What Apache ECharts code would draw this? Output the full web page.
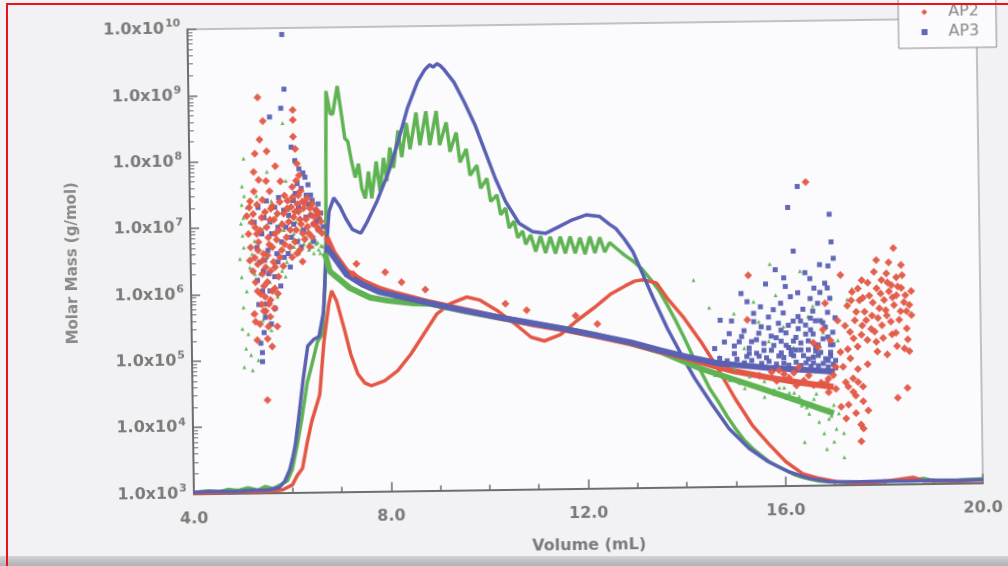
<!DOCTYPE html>
<html><head><meta charset="utf-8">
<script src="https://cdn.jsdelivr.net/npm/echarts@6/dist/echarts.min.js"></script>
<style>
html,body{margin:0;padding:0;width:1008px;height:566px;overflow:hidden;background:#f2f2f4;}
#chart{position:absolute;left:0;top:0;width:1008px;height:566px;transform:rotate(-0.8deg);transform-origin:504px 283px;}
#frameL{position:absolute;left:6px;top:3px;width:2px;height:563px;background:#e8141c;}
#frameT{position:absolute;left:6px;top:3px;width:1002px;height:2px;background:#e8141c;}
#band{position:absolute;left:0;top:556px;width:1008px;height:10px;background:linear-gradient(#d4d4d8,#b0b0b4);}
</style></head><body>
<div id="chart"></div><div id="band"></div><div id="frameL"></div><div id="frameT"></div>
<script>
// ---- tick labels ----
const xTickLabels = [4, 8, 12, 16, 20];
const yTickExponents = [3, 4, 5, 6, 7, 8, 9, 10];
const seriesNames = ['AP1', 'AP2', 'AP3'];

// ---- detector traces (volume mL, value) ----
const ap1Trace = [[4.0,1.05e3],[4.3,1.1e3],[4.5,1.05e3],[4.7,1.15e3],[4.9,1.1e3],[5.1,1.2e3],[5.3,1.1e3],[5.45,1.25e3],[5.6,1.15e3],[5.75,1.3e3],[5.9,1.5e3],[6.0,2.2e3],[6.11,5.2e3],[6.21,1.3e4],[6.33,4.5e4],[6.41,7.4e4],[6.55,1.86e5],[6.65,2.4e5],[6.72,1.35e6],[6.75,7.6e6],[6.79,1.1e9],[6.82,1.1e9],[6.87,5.0e8],[6.92,4.9e8],[6.97,8e8],[7.02,1.3e9],[7.09,5.4e8],[7.16,2.1e8],[7.22,1.9e8],[7.29,9.5e7],[7.36,5.4e7],[7.43,8.7e7],[7.49,3.7e7],[7.56,2.6e7],[7.63,6.6e7],[7.69,2.6e7],[7.79,9.3e7],[7.86,3.3e7],[7.94,1.05e8],[8.0,4.7e7],[8.07,1.5e8],[8.14,7.4e7],[8.24,2.7e8],[8.31,1.07e8],[8.41,3.5e8],[8.48,1.4e8],[8.61,5.0e8],[8.68,1.6e8],[8.81,5.2e8],[8.88,1.6e8],[9.02,5.2e8],[9.08,1.6e8],[9.22,3.5e8],[9.29,1.26e8],[9.42,2.45e8],[9.49,8.7e7],[9.62,1.38e8],[9.69,5.5e7],[9.83,7.8e7],[9.9,3.5e7],[10.03,4.9e7],[10.1,2.2e7],[10.23,2.75e7],[10.3,1.38e7],[10.4,1.74e7],[10.47,8.7e6],[10.57,1.1e7],[10.64,6.2e6],[10.74,7.8e6],[10.8,4.9e6],[10.9,6.8e6],[11.0,3.8e6],[11.1,6.5e6],[11.2,3.6e6],[11.3,6.3e6],[11.4,3.5e6],[11.5,6.3e6],[11.6,3.5e6],[11.7,6.3e6],[11.8,3.5e6],[11.9,6.0e6],[12.0,3.4e6],[12.1,6.2e6],[12.2,3.5e6],[12.3,6.0e6],[12.4,3.6e6],[12.5,5.0e6],[12.63,4.1e6],[12.8,3.2e6],[12.97,2.6e6],[13.14,2.0e6],[13.31,1.4e6],[13.48,9.5e5],[13.65,5.6e5],[13.82,3.2e5],[13.99,1.74e5],[14.15,9.5e4],[14.32,5.4e4],[14.49,3.0e4],[14.66,1.9e4],[14.83,1.15e4],[15.0,7.4e3],[15.17,5.0e3],[15.34,3.7e3],[15.51,2.9e3],[15.68,2.3e3],[15.85,1.95e3],[16.01,1.7e3],[16.18,1.45e3],[16.35,1.32e3],[16.69,1.15e3],[17.0,1.1e3],[17.5,1.08e3],[18.0,1.1e3],[18.5,1.12e3],[18.8,1.2e3],[19.0,1.1e3],[19.5,1.12e3],[20.0,1.15e3]];
const ap2Trace = [[4.0,1.02e3],[4.5,1.03e3],[5.0,1.05e3],[5.5,1.05e3],[5.8,1.1e3],[6.0,1.3e3],[6.1,1.8e3],[6.21,2.3e3],[6.31,5.5e3],[6.41,1.17e4],[6.5,1.9e4],[6.58,2.95e4],[6.68,1.86e5],[6.79,6.8e5],[6.85,1.07e6],[6.95,7.4e5],[7.09,2.95e5],[7.22,1.17e5],[7.36,5.9e4],[7.5,4.3e4],[7.63,3.9e4],[7.9,4.6e4],[8.17,6.5e4],[8.44,1.15e5],[8.71,2.3e5],[8.98,4.6e5],[9.25,6.5e5],[9.59,8.1e5],[9.86,7.2e5],[10.2,5.0e5],[10.54,3.2e5],[10.88,1.95e5],[11.15,1.7e5],[11.48,2.1e5],[11.82,3.4e5],[12.16,5.2e5],[12.5,8.3e5],[12.8,1.1e6],[13.0,1.3e6],[13.17,1.35e6],[13.44,1.2e6],[13.65,7.1e5],[13.99,3.5e5],[14.32,1.55e5],[14.66,6.0e4],[15.0,2.1e4],[15.34,8.3e3],[15.68,4.2e3],[16.01,2.3e3],[16.35,1.5e3],[16.69,1.26e3],[17.03,1.12e3],[17.5,1.05e3],[18.0,1.1e3],[18.6,1.25e3],[18.8,1.1e3],[19.5,1.08e3],[20.0,1.1e3]];
const ap3Trace = [[4.0,1.05e3],[4.4,1.08e3],[4.8,1.06e3],[5.2,1.1e3],[5.5,1.1e3],[5.74,1.2e3],[5.85,1.5e3],[5.95,2.2e3],[6.02,3.5e3],[6.07,5.2e3],[6.15,1.4e4],[6.25,5.2e4],[6.35,1.6e5],[6.47,2.0e5],[6.58,2.2e5],[6.68,5.2e5],[6.75,4.3e6],[6.82,1.7e7],[6.92,2.7e7],[7.04,2.0e7],[7.16,1.3e7],[7.29,8.9e6],[7.46,7.8e6],[7.59,1.15e7],[7.79,2.3e7],[8.04,6.5e7],[8.24,1.85e8],[8.44,5.9e8],[8.65,1.45e9],[8.8,2.2e9],[8.9,2.6e9],[8.97,2.4e9],[9.05,2.7e9],[9.12,2.5e9],[9.19,2.2e9],[9.39,1.4e9],[9.59,7.1e8],[9.8,3.2e8],[10.0,1.26e8],[10.2,4.9e7],[10.4,2.2e7],[10.67,1.02e7],[10.94,7.6e6],[11.21,7.1e6],[11.48,8.9e6],[11.75,1.12e7],[12.03,1.32e7],[12.3,1.25e7],[12.5,9.5e6],[12.63,8.1e6],[12.8,5.6e6],[12.97,3.6e6],[13.17,1.6e6],[13.37,7.1e5],[13.65,2.45e5],[13.92,1.0e5],[14.19,4.3e4],[14.53,1.74e4],[14.87,7.4e3],[15.27,3.7e3],[15.66,2.3e3],[16.08,1.6e3],[16.49,1.26e3],[16.9,1.12e3],[17.5,1.1e3],[18.0,1.12e3],[18.5,1.1e3],[19.0,1.12e3],[19.5,1.1e3],[20.0,1.12e3]];

// ---- molar mass (dense band) ----
const ap1Mass = [[6.72,4.0e6],[6.82,2.1e6],[7.22,1.17e6],[7.63,8.3e5],[8.0,7.4e5],[8.5,6.7e5],[8.85,6.5e5],[9.52,5.0e5],[10.2,3.95e5],[10.88,3.15e5],[11.55,2.55e5],[12.23,2.0e5],[12.9,1.5e5],[13.51,1.1e5],[14.32,6.0e4],[15.34,3.3e4],[16.35,1.8e4],[16.69,1.45e4],[17.0,1.2e4]];
const ap2Mass = [[6.76,7.0e6],[6.9,4.0e6],[7.16,2.1e6],[7.5,1.45e6],[7.83,1.12e6],[8.17,9.3e5],[8.85,6.8e5],[9.52,5.2e5],[10.2,4.0e5],[10.88,3.1e5],[11.55,2.5e5],[12.23,1.95e5],[12.9,1.5e5],[13.51,1.12e5],[14.0,8.9e4],[14.66,6.3e4],[15.0,5.4e4],[15.68,4.3e4],[16.35,3.5e4],[17.0,3.0e4]];
const ap3Mass = [[6.75,5.0e6],[6.9,3.5e6],[7.16,1.86e6],[7.5,1.29e6],[7.83,1.0e6],[8.17,8.7e5],[8.85,6.6e5],[9.52,5.1e5],[10.2,4.0e5],[10.88,3.2e5],[11.55,2.57e5],[12.23,2.0e5],[12.9,1.55e5],[13.51,1.15e5],[14.0,9.3e4],[14.66,7.2e4],[15.68,6.0e4],[16.4,5.5e4],[17.03,5.1e4]];

// ---- molar mass (scattered points) ----
const ap1Points = [[5.06,4.2e7],[5.10,1.1e8],[5.90,3.7e8],[5.57,6.9e7],[5.03,1.15e7],[5.06,7.6e6],[5.0,3.4e6],[5.03,1.8e6],[5.13,1.1e6],[5.06,6.3e5],[5.03,3.0e5],[5.10,1.5e5],[5.06,7.9e4],[5.23,7.1e4],[5.3,6.3e6],[5.5,1.0e7],[5.7,8e6],[5.8,4e6],[5.9,9e6],[6.0,7e6],[6.1,5e6],[6.2,6.5e6],[6.3,5.5e6],[6.4,4.5e6],[6.45,6.0e6],[6.5,4.0e6],[6.55,5.5e6],[6.6,4.5e6],[6.65,5.2e6],[6.7,3.8e6],[5.4,2e6],[5.6,1.5e6],[5.45,4e5],[5.2,2.5e6],[5.15,2e7],[5.35,3e7],[5.65,2.5e7],[5.75,1.5e7],[6.05,2.5e7],[6.15,1.2e7],[5.95,5e7],[5.5,5e5],[5.35,1e5],[5.25,4e6],[5.85,2.2e6],
  [5.1,3.0e7],[5.2,1.2e7],[5.25,5e5],[5.3,2e6],[5.45,8e6],[5.55,3.5e6],[5.6,5e6],[5.7,2.5e6],[5.75,9e5],[5.85,1.2e7],[5.95,3e6],[6.05,1.2e7],[6.1,8e6],[6.2,4.0e6],[6.25,9e6],[6.35,7e6],[6.4,5.5e6],[6.48,5e6],[6.52,6.5e6],[6.58,5.8e6],[6.63,4.0e6],[6.68,5.0e6],[5.05,2.2e7],[5.08,5e6],[5.15,2.5e5],[5.2,1.2e5],[5.4,7e5],[5.62,2.8e5],[5.08,1.4e7],[5.92,1.8e6],[5.52,1.8e7],[6.0,1.8e7],
  [14.19,1.3e6],[15.74,2.2e6],[16.35,1.7e6],[17.4,9e5],[15.85,7.4e5],[17.3,6.2e5],[15.0,4e5],[15.5,3e5],[16.0,2.5e5],[16.5,3.5e5],[16.8,2e5],[17.1,1.5e5],[16.35,1.6e4],[16.5,1.2e4],[16.7,9e3],[16.8,6e3],[16.9,1.0e4],[17.05,7e3],[17.2,2.6e3],[16.6,2.0e4],[16.2,2.5e4],[16.0,3e4],[15.8,2.8e4],[17.0,1.6e4],[17.1,1.2e4],[16.4,4.5e3],[15.6,2.2e4],[15.2,3.0e4],
  [15.0,6e4],[15.3,4.5e4],[15.6,3.8e4],[15.9,3e4],[16.1,2.5e4],[16.3,2.2e4],[16.55,1.7e4],[16.75,1.4e4],[16.95,1.1e4],[14.7,9e4],[15.2,1.2e5],[15.7,1.5e5],[16.2,1.2e5],[16.6,9e4],[17.2,6e3],[17.0,4.5e3],[16.85,3.5e3],[14.5,5e5],[15.4,6e5],[16.6,5e5],
  [14.6,4.8e4],[14.9,4.0e4],[15.1,3.6e4],[15.45,3.2e4],[15.8,2.4e4],[16.05,2.1e4],[16.45,1.5e4],[16.65,2.4e4],[16.9,1.4e4]];
const ap2Points = [[5.40,9.1e8],[5.50,4.0e8],[6.11,5.8e8],[6.11,4.1e8],[5.43,2.1e8],[6.11,2.3e8],[5.33,1.3e8],[5.57,1.4e8],[6.15,1.5e8],[5.30,6.9e7],[5.74,8.3e7],[6.18,9e7],[5.40,5.2e7],[5.84,4.9e7],[6.22,6e7],[6.25,3.5e7],[5.20,2.0e7],[5.64,1.9e7],[6.28,2.4e7],[5.25,1.2e7],[5.35,8e6],[5.45,1.4e7],[5.55,1.0e7],[5.70,1.3e7],[5.80,9e6],[5.90,1.6e7],[6.0,1.2e7],[6.05,2.0e7],[6.10,1.4e7],[6.15,9e6],[6.20,1.7e7],[6.25,1.1e7],[6.30,1.9e7],[6.35,1.3e7],[6.40,8e6],[6.45,1.5e7],[6.50,1.1e7],[6.55,1.8e7],[6.60,9e6],[6.65,1.2e7],[5.22,5e6],[5.30,3.5e6],[5.38,6e6],[5.48,4e6],[5.52,2.5e6],[5.60,5.5e6],[5.68,3e6],[5.75,6.5e6],[5.85,4.5e6],[5.95,7e6],[6.02,5e6],[6.12,6e6],[6.22,4.5e6],[6.32,6.5e6],[6.42,5e6],[5.45,2e6],[5.55,1.5e6],[5.62,2.2e6],[5.70,1.2e6],[5.78,1.8e6],[5.50,9e5],[5.58,7e5],[5.65,1.1e6],[5.43,6.9e5],[5.30,3.8e5],[5.74,3.2e5],[5.33,2.0e5],[5.54,2.1e5],[5.52,2.5e4],[5.60,4.5e5],[5.48,1.3e6],[5.36,2.8e6],[5.88,2.6e6],[6.48,2.2e7],[6.38,2.7e7],[6.58,1.5e7],
  [5.15,1.5e7],[5.18,8e6],[5.22,2.5e7],[5.28,1.6e7],[5.32,1.0e7],[5.36,2.2e7],[5.42,9e6],[5.47,2.6e7],[5.52,1.7e7],[5.58,7e6],[5.62,1.3e7],[5.67,2.1e7],[5.72,8e6],[5.77,1.6e7],[5.82,2.4e7],[5.87,1.1e7],[5.92,3.0e7],[5.97,1.9e7],[6.03,9e6],[6.08,2.8e7],[6.13,1.7e7],[6.18,2.2e7],[6.23,1.3e7],[6.28,8e6],[6.33,2.3e7],[6.38,1.0e7],[6.43,1.9e7],[6.47,7e6],[6.52,1.4e7],[6.57,1.0e7],[6.62,1.6e7],[6.67,8e6],[5.2,3.2e6],[5.26,2.2e6],[5.31,1.5e6],[5.37,4.5e6],[5.41,1.0e6],[5.46,3.2e6],[5.51,5.5e5],[5.56,3.8e6],[5.61,8e5],[5.66,5e6],[5.71,2.5e6],[5.76,1.0e6],[5.81,3.5e6],[5.91,5.5e6],[6.06,3.5e6],[6.16,4e6],[6.27,3e6],[5.39,3.5e5],[5.47,5.5e5],[5.56,3.2e5],[5.63,1.6e5],[5.69,6e5],[5.35,1.1e6],[5.28,5e5],[6.08,4.0e7],[6.16,5e7],[6.2,3.0e7],[5.98,2.5e7],[5.62,3.5e7],[5.55,5e7],[5.3,3.5e7],
  [7.29,1.9e6],[7.36,2.7e6],[7.94,2.0e6],[8.27,1.4e6],[8.75,1.07e6],[10.37,6.3e5],[10.8,5.0e5],[11.79,4.0e5],[12.23,3.0e5],
  [16.49,3.7e7],[18.25,3.6e6],[17.9,2.4e6],[17.17,1.45e6],[15.3,1.5e6],[15.27,3.2e5],[18.5,2.8e4],[18.3,2.0e4],[17.6,7e3],[17.55,4.5e3],[17.3,5e5],[17.35,2e5],[17.4,8e5],[17.45,3e5],[17.5,1.2e5],[17.55,6e5],[17.6,2.5e5],[17.65,4e5],[17.7,1.5e5],[17.75,7e5],[17.8,3.5e5],[17.85,2e5],[17.9,9e5],[17.95,4.5e5],[18.0,1.2e6],[18.0,2.5e5],[18.05,6e5],[18.1,1.5e6],[18.1,3.5e5],[18.15,8e5],[18.2,1.0e6],[18.2,1.8e5],[18.25,5e5],[18.3,1.3e6],[18.3,7e5],[18.35,3e5],[18.4,9e5],[18.45,5.5e5],[18.5,2.2e5],[18.45,1.1e5],[18.3,1.2e5],[18.1,9e4],[17.9,1.0e5],[17.7,6.5e4],[17.5,5.5e4],[17.4,4e4],[17.35,8e4],[17.25,3.5e4],[17.15,1.0e5],[17.05,6e4],[16.9,4e4],[17.6,3e4],[17.45,2.2e4],[17.3,1.6e4],[17.7,1.3e4],[17.55,8e3],[18.55,1.0e5],[18.5,4e5],[18.4,2e6],[18.15,2.2e6],[17.85,1.6e6],[17.6,1.2e6],[18.6,3.5e5],[16.8,2.2e5],[16.6,1.4e5],[16.3,6.0e4],[16.0,4.8e4],
  [17.25,2.5e5],[17.3,1.1e5],[17.38,6e5],[17.42,1.6e5],[17.48,4e5],[17.52,9e5],[17.58,1.8e5],[17.62,6.5e5],[17.68,3e5],[17.72,1.1e6],[17.78,2.2e5],[17.82,5.5e5],[17.88,1.4e5],[17.92,3.2e5],[17.98,7.5e5],[18.02,1.6e5],[18.08,4.2e5],[18.12,1.1e6],[18.18,2.8e5],[18.22,6.5e5],[18.28,1.9e5],[18.33,9.5e5],[18.38,4e5],[18.42,1.4e6],[18.48,7e5],[18.52,1.5e5],[18.56,5e5],[18.6,8e5],[17.2,6e4],[17.3,3e4],[17.4,2.5e4],[17.5,3.5e4],[17.6,1.8e4],[17.15,1.5e4],[17.25,1.0e4],[17.45,1.2e4],[16.9,2.5e4],[17.0,4.5e4],[16.75,3.5e4],[16.5,4.5e4],[16.2,5e4],[15.9,5.5e4],[16.7,1.2e5],[16.95,1.5e5],[17.1,3e5],[16.85,5.5e5],
  [15.5,4.6e4],[15.75,5.2e4],[16.1,4.2e4],[16.4,3.8e4],[16.6,3.2e4],[16.85,3.4e4],[17.05,2.8e4],[16.25,3.2e4],[15.85,3.8e4]];
const ap3Points = [[5.91,8e9],[5.94,1.2e9],[5.87,6.2e8],[5.64,4.6e8],[6.07,1.6e8],[6.14,1.0e8],[6.22,7.5e7],[6.34,5.6e7],[6.40,4.3e7],[6.30,6.5e7],[6.45,3.0e7],[5.80,2.8e7],[6.14,3.2e7],[5.50,1.4e7],[5.94,1.0e7],[6.51,1.1e7],[5.57,4.5e6],[5.77,3.0e6],[5.47,2.2e6],[5.37,6.9e5],[5.50,4.4e5],[5.43,1.3e5],[5.43,9.5e4],[5.65,8e6],[5.85,6e6],[6.0,1.5e7],[6.2,2e7],[6.35,1.4e7],[6.55,1.8e7],[6.6,9e6],[5.7,1.8e6],[5.6,1.1e6],[5.52,7e5],[5.75,4e6],[6.05,7e6],[6.25,5e6],[5.35,5e6],[5.4,3e6],[6.45,1.5e7],[6.62,1.3e7],
  [5.3,1.2e7],[5.38,2.0e7],[5.45,8e6],[5.55,2.5e7],[5.62,1.2e7],[5.72,2.0e7],[5.78,1.0e7],[5.9,1.8e7],[5.98,4e6],[6.1,1.1e7],[6.17,6e6],[6.3,9e6],[6.4,2.2e7],[6.5,6e6],[6.57,1.2e7],[5.35,1.6e6],[5.45,1.1e6],[5.5,3.2e6],[5.58,2e6],[5.62,3.5e5],[5.47,2.6e5],[5.4,1.8e5],[5.7,6e5],[5.82,1.3e6],[6.02,2.5e6],[5.9,3.5e6],[6.1,2.5e7],[6.18,4.5e7],[6.26,3.8e7],[6.36,3.0e7],[6.48,2.5e7],[6.6,2.2e7],[6.65,1.6e7],[6.7,1.0e7],
  [16.32,3.2e7],[16.12,1.55e7],[16.96,1.2e7],[16.99,4.6e6],[16.22,3.4e6],[17.03,2.6e6],[16.75,2.1e6],[16.92,2.0e6],[15.85,1.8e6],[16.02,1.35e6],[16.63,9.3e5],[16.9,9.3e5],[15.27,6e5],[15.54,5e5],[15.95,5.6e5],[14.72,3.2e5],[14.95,3.1e5],[15.1,1.5e5],[15.2,2.2e5],[15.3,1.2e5],[15.4,3.0e5],[15.45,1.6e5],[15.55,2.5e5],[15.6,1.1e5],[15.7,3.5e5],[15.75,1.8e5],[15.8,1.3e5],[15.9,2.8e5],[15.95,1.5e5],[16.0,4.0e5],[16.05,2.0e5],[16.1,1.2e5],[16.2,3.0e5],[16.25,1.7e5],[16.3,2.3e5],[16.35,1.1e5],[16.4,4.5e5],[16.45,2.6e5],[16.5,1.5e5],[16.55,3.3e5],[16.6,1.9e5],[16.65,1.2e5],[16.7,5.5e5],[16.75,3.0e5],[16.8,1.6e5],[16.85,2.4e5],[16.9,4.0e5],[16.95,1.3e5],[17.0,2.0e5],[17.05,3.3e5],[16.55,6.5e5],[16.3,8.0e5],[14.9,2.0e5],[15.0,1.0e5],[16.15,7e5],[16.85,1.1e6],[16.45,1.6e6],[15.5,9e4],[16.0,8.5e4],[16.5,8e4],[16.9,7.5e4],[16.2,9e4],[16.7,9e4],
  [14.6,1.2e5],[14.8,1.5e5],[15.0,1.3e5],[15.15,1.8e5],[15.25,9e4],[15.35,1.5e5],[15.45,1.0e5],[15.5,2.0e5],[15.6,1.4e5],[15.65,8.5e4],[15.7,2.4e5],[15.75,1.1e5],[15.85,1.7e5],[15.9,9e4],[15.95,2.2e5],[16.05,1.3e5],[16.1,2.6e5],[16.15,9.5e4],[16.2,1.5e5],[16.25,1.1e5],[16.3,3.5e5],[16.35,1.4e5],[16.4,9e4],[16.45,1.9e5],[16.5,1.1e5],[16.55,2.2e5],[16.6,8.5e4],[16.65,3.0e5],[16.7,1.3e5],[16.75,1.0e5],[16.8,2.8e5],[16.85,8e4],[16.9,1.7e5],[16.95,1.0e5],[17.0,1.3e5],[17.05,7.5e4],[16.6,4.2e5],[16.35,3.0e5],[15.8,4.5e5],[15.4,4.0e5],[16.95,6.5e5],[16.75,8e5],[15.65,1.1e6],[15.15,8e5],[16.05,1.0e6],[16.55,1.3e6],
  [14.7,8.5e4],[14.85,7.8e4],[15.05,8.2e4],[15.2,7.2e4],[15.35,7.8e4],[15.55,7.0e4],[15.7,7.5e4],[15.85,6.8e4],[16.0,7.0e4],[16.1,6.5e4],[16.25,7.2e4],[16.35,6.4e4],[16.45,7.0e4],[16.55,6.2e4],[16.6,7.0e4],[16.7,6.3e4],[16.8,6.8e4],[16.9,6.0e4],[17.0,6.6e4],[17.05,5.8e4],[16.15,1.1e5],[16.65,1.05e5],[15.95,1.0e5],[15.3,1.0e5],[16.95,8.8e4]];

// ---- tick positions derived from the tick arrays ----
const yMajor = yTickExponents.map(e => Math.pow(10, e));
const yMinor = [];
yTickExponents.slice(0, -1).forEach(e => { for (let k = 2; k <= 9; k++) yMinor.push(k * Math.pow(10, e)); });

const C = { AP1: '#5fb352', AP2: '#e35744', AP3: '#5a60b2' };
const axisGray = '#6e6e6e';
const textGray = '#7a7a7a';
const FONT = 'DejaVu Sans';

function trace(name, data, color) {
  return { name: name + ' trace', type: 'line', data, symbol: 'none', z: 2, silent: true,
    lineStyle: { width: 3.5, color }, itemStyle: { color } };
}
function band(name, data, color) {
  return { name: name + ' band', type: 'line', data, symbol: 'none', z: 3, silent: true,
    lineStyle: { width: 6, color }, itemStyle: { color } };
}
function pts(name, data, color, symbol, size) {
  return { name, type: 'scatter', data, symbol, symbolSize: size, z: 4, silent: true,
    itemStyle: { color, opacity: 0.95 } };
}

const chart = echarts.init(document.getElementById('chart'), null, { renderer: 'canvas' });
chart.setOption({
  animation: false,
  backgroundColor: 'transparent',
  grid: { left: 191, right: 28, top: 25, bottom: 76.5, show: true, backgroundColor: '#fbfbfd',
    borderColor: '#8a8a8a', borderWidth: 1 },
  legend: {
    orient: 'vertical', left: 902, top: -18, padding: [8, 17, 8, 23], itemGap: 4,
    itemWidth: 6, itemHeight: 6, backgroundColor: '#fbfbfd', borderColor: '#8a8a8a', borderWidth: 1,
    textStyle: { fontFamily: FONT, fontSize: 16, color: '#888', lineHeight: 16, padding: [0, 0, 0, 16] },
    data: [{ name: 'AP1', icon: 'triangle' }, { name: 'AP2', icon: 'diamond' }, { name: 'AP3', icon: 'rect' }]
  },
  xAxis: [
    { type: 'value', min: 4, max: 20, interval: 4,
      name: 'Volume (mL)', nameLocation: 'middle', nameGap: 49,
      nameTextStyle: { fontFamily: FONT, fontSize: 16, fontWeight: 'bold', color: textGray },
      axisLine: { show: true, lineStyle: { color: axisGray, width: 2 } },
      axisTick: { show: true, inside: true, length: 9, lineStyle: { color: axisGray, width: 1.5 } },
      axisLabel: { margin: 17, fontFamily: FONT, fontSize: 16, fontWeight: 'bold', color: textGray,
        customValues: xTickLabels, formatter: v => v.toFixed(1) },
      splitLine: { show: false } },
    { type: 'value', min: 4, max: 20, interval: 1, position: 'bottom',
      axisLine: { show: false }, axisLabel: { show: false }, splitLine: { show: false },
      axisTick: { show: true, inside: true, length: 5, lineStyle: { color: axisGray, width: 1.5 } } }
  ],
  yAxis: [
    { type: 'log', logBase: 10, min: 1e3, max: 1e10,
      name: 'Molar Mass (g/mol)', nameLocation: 'middle', nameGap: 110, nameRotate: 90,
      nameTextStyle: { fontFamily: FONT, fontSize: 15, fontWeight: 'bold', color: '#8a8a8a' },
      axisLine: { show: true, lineStyle: { color: axisGray, width: 2 } },
      axisTick: { show: true, inside: true, length: 9, customValues: yMajor, lineStyle: { color: axisGray, width: 1.5 } },
      axisLabel: { margin: 7, customValues: yMajor,
        formatter: v => '{m|1.0x10}{e|' + Math.round(Math.log10(v)) + '}',
        rich: {
          m: { fontFamily: FONT, fontSize: 16, fontWeight: 'bold', color: textGray },
          e: { fontFamily: FONT, fontSize: 11, fontWeight: 'bold', color: textGray, padding: [0, 0, 11, 1] }
        } },
      splitLine: { show: false } },
    { type: 'log', logBase: 10, min: 1e3, max: 1e10, position: 'left',
      axisLine: { show: false }, axisLabel: { show: false }, splitLine: { show: false },
      axisTick: { show: true, inside: true, length: 5, customValues: yMinor, lineStyle: { color: axisGray, width: 1 } } }
  ],
  series: [
    trace('AP1', ap1Trace, C.AP1),
    trace('AP2', ap2Trace, C.AP2),
    trace('AP3', ap3Trace, C.AP3),
    band('AP1', ap1Mass, C.AP1),
    band('AP2', ap2Mass, C.AP2),
    band('AP3', ap3Mass, C.AP3),
    pts('AP1', ap1Points, C.AP1, 'triangle', 4),
    pts('AP3', ap3Points, C.AP3, 'rect', 5),
    pts('AP2', ap2Points, C.AP2, 'diamond', 8)
  ]
});
</script></body></html>
